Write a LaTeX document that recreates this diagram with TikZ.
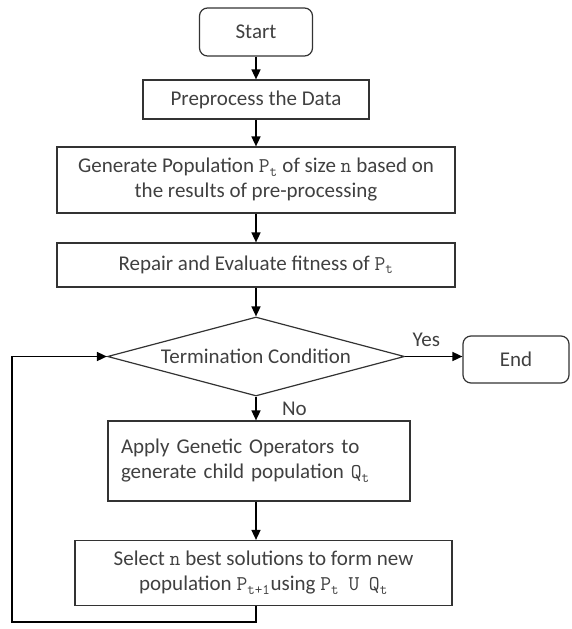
\documentclass[tikz,border=0pt]{standalone}
\usepackage{fontspec}
\setmainfont{Carlito}
\usetikzlibrary{shapes.geometric,arrows.meta}
\newcommand{\cvar}[2]{{\ttfamily #1\textsubscript{#2}}}

\begin{document}
\begin{tikzpicture}[x=1pt,y=-1pt,
    every node/.style={font=\fontsize{21}{25}\selectfont, text=black!75},
    box/.style={draw=black!80, line width=1.2pt, inner sep=0pt},
    arr/.style={line width=1.6pt, -{Triangle[length=10pt,width=9pt]}}]
    \useasboundingbox (0,0) rectangle (572,629);
    % boxes
    \node[box, rounded corners=8pt, minimum width=113pt, minimum height=48pt] (start) at (256,32) {Start};
    \node[box, minimum width=226pt, minimum height=39pt] (prep) at (256,99.5) {Preprocess the Data};
    \node[box, minimum width=398pt, minimum height=66pt, align=center] (gen) at (256,180)
        {Generate Population \cvar{P}{t} of size {\ttfamily n} based on\\the results of pre-processing};
    \node[box, minimum width=398pt, minimum height=44pt] (repair) at (256,265) {Repair and Evaluate fitness of \cvar{P}{t}};
    \node[box, diamond, shape aspect=3.76, minimum width=297pt, minimum height=79pt] (term) at (256,356.5) {Termination Condition};
    \node[box, rounded corners=8pt, minimum width=106pt, minimum height=47pt] (stop) at (516,359.5) {End};
    \node[box, text width=276pt, inner xsep=13pt, minimum height=80pt, align=left] (apply) at (259,461)
        {Apply Genetic Operators to\\generate child population \cvar{Q}{t}};
    \node[box, minimum width=377pt, minimum height=65pt, align=center] (select) at (263.5,573)
        {Select {\ttfamily n} best solutions to form new\\population \cvar{P}{t+1}using \cvar{P}{t}\ \ {\ttfamily U}\ \ \cvar{Q}{t}};
    \coordinate (loop) at (12,622);
    % connectors
    \draw[arr] (start) -- (prep);
    \draw[arr] (prep) -- (gen);
    \draw[arr] (gen) -- (repair);
    \draw[arr] (repair) -- (term);
    \draw[arr] (term.east) -- node[pos=0.37, above=6pt] {Yes} (term.east -| stop.west);
    \draw[arr] (term.south) -- node[pos=0.5, right=22pt] {No} (term.south |- apply.north);
    \draw[arr] (apply.south -| term.south) -- (term.south |- select.north);
    \draw[arr] (select.south -| term.south) |- (loop) |- (term.west);
\end{tikzpicture}
\end{document}
